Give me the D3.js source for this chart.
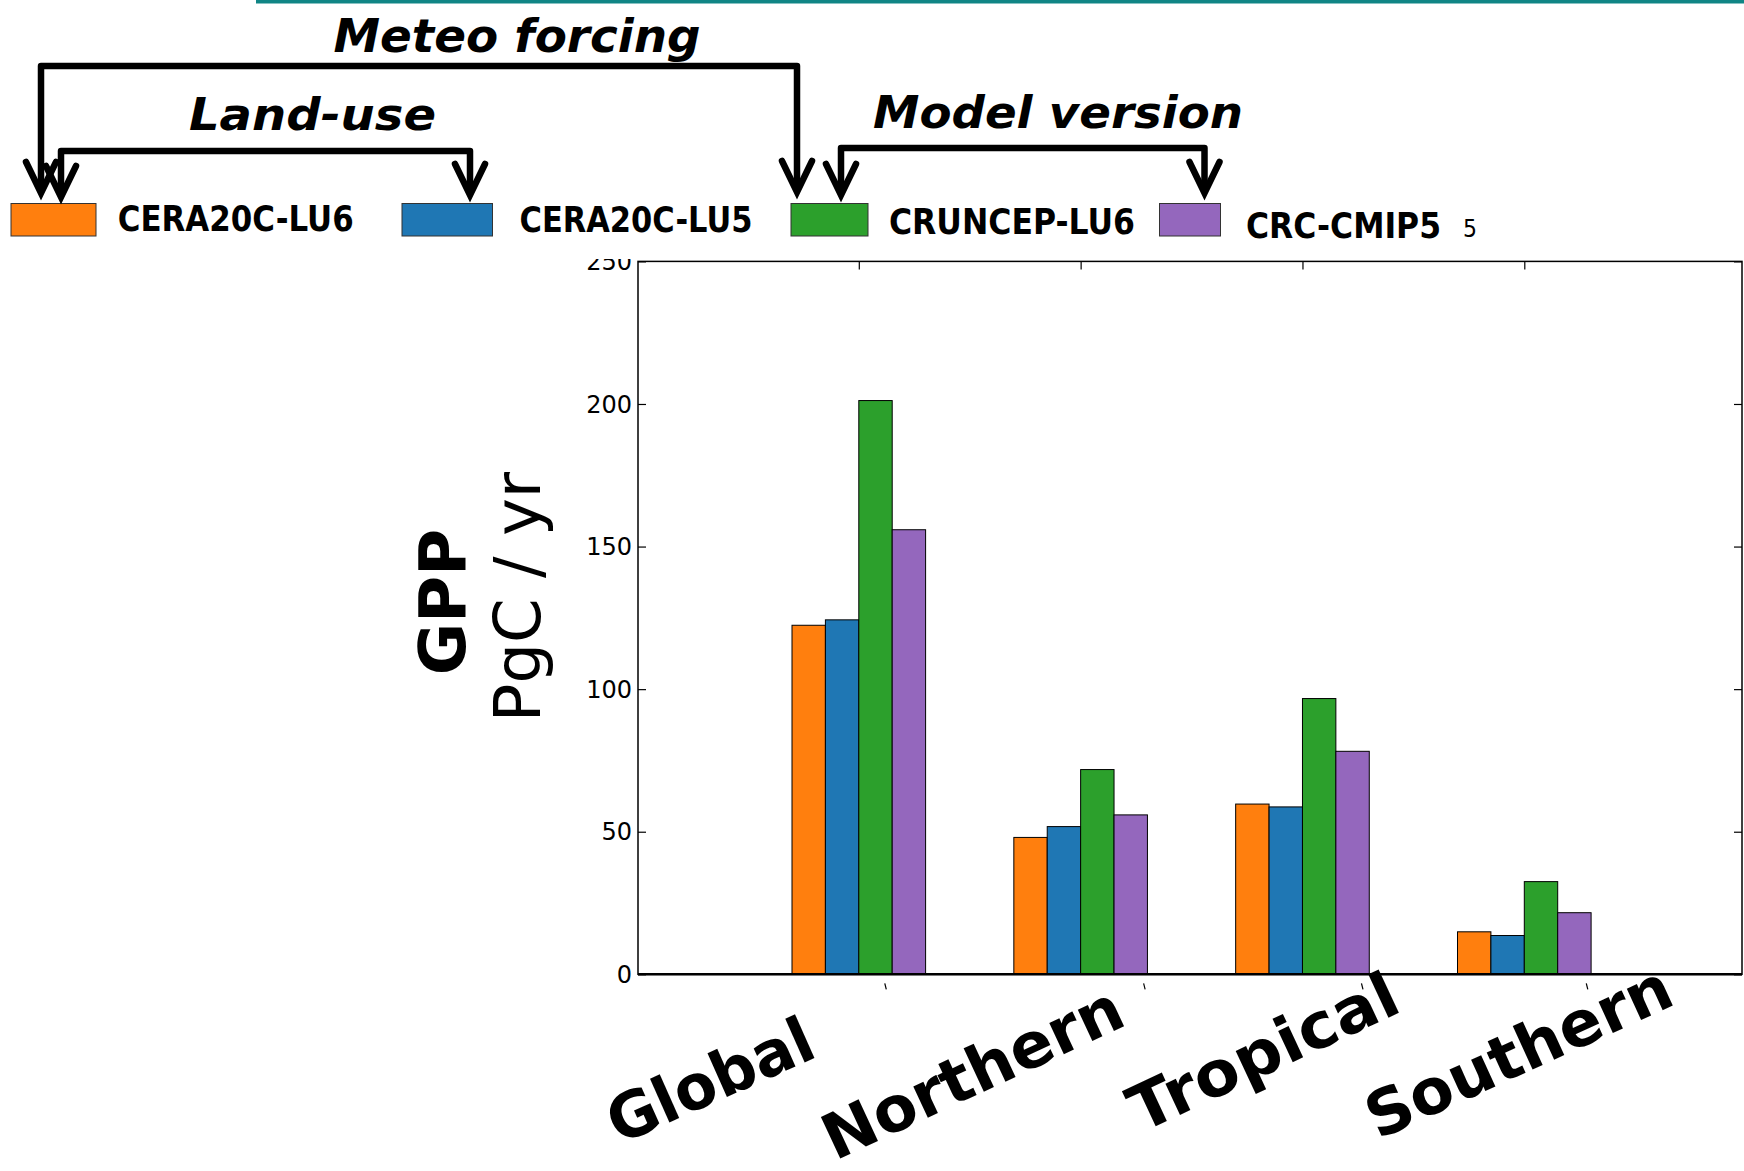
<!DOCTYPE html>
<html>
<head>
<meta charset="utf-8">
<script src="https://cdn.jsdelivr.net/npm/d3@7/dist/d3.min.js"></script>
<style>
  html, body { margin: 0; padding: 0; background: #fff; }
  svg { display: block; }
  text { font-family: "DejaVu Sans", sans-serif; }
</style>
</head>
<body>
<svg id="chart" width="1744" height="1171"></svg>
<script>
// ---- data ----
const categories = ["Global", "Northern", "Tropical", "Southern"];
const seriesNames = ["CERA20C-LU6", "CERA20C-LU5", "CRUNCEP-LU6", "CRC-CMIP5"];
const seriesColors = ["#ff7f0e", "#1f77b4", "#2ca02c", "#9467bd"];
const cera20cLu6 = [122.4, 48.0, 59.7, 14.9];
const cera20cLu5 = [124.3, 51.8, 58.7, 13.6];
const cruncepLu6 = [201.2, 71.8, 96.7, 32.5];
const crcCmip5   = [155.9, 55.9, 78.2, 21.6];
const seriesValues = [cera20cLu6, cera20cLu5, cruncepLu6, crcCmip5];
const yTicks = [0, 50, 100, 150, 200, 250];

// ---- layout ----
const svg = d3.select("#chart");
const plot = { left: 638, right: 1742, top: 261.4, bottom: 974.3 };

const y = d3.scaleLinear().domain([0, 250]).range([plot.bottom, plot.top]);
const xCenter = d3.scalePoint().domain(categories).range([858.8, 1524.3]);
const xSub = d3.scaleBand().domain(seriesNames).range([-66.8, 66.8]).padding(0);

// teal header line
svg.append("rect").attr("x", 256).attr("y", 0).attr("width", 1488).attr("height", 3.5)
  .attr("fill", "#108585");

// bars
const groups = svg.append("g");
seriesNames.forEach((name, si) => {
  groups.selectAll(null)
    .data(categories.map((c, ci) => ({ c, v: seriesValues[si][ci] })))
    .enter().append("rect")
    .attr("x", d => xCenter(d.c) + xSub(name))
    .attr("y", d => y(d.v))
    .attr("width", xSub.bandwidth())
    .attr("height", d => y(0) - y(d.v))
    .attr("fill", seriesColors[si])
    .attr("stroke", "#000")
    .attr("stroke-width", 1);
});

// axes frame
const frame = svg.append("g");
frame.append("rect")
  .attr("x", plot.left).attr("y", plot.top)
  .attr("width", plot.right - plot.left).attr("height", plot.bottom - plot.top)
  .attr("fill", "none").attr("stroke", "#000").attr("stroke-width", 1.5);
frame.append("line").attr("x1", plot.left).attr("x2", plot.right)
  .attr("y1", plot.bottom).attr("y2", plot.bottom).attr("stroke", "#000").attr("stroke-width", 2.5);

// y axis (left, inward ticks)
const yAxisL = d3.axisLeft(y).tickValues(yTicks).tickSizeInner(-8).tickSizeOuter(0);
const gL = svg.append("g").attr("transform", `translate(${plot.left},0)`).call(yAxisL);
gL.select(".domain").remove();
gL.selectAll("line").attr("stroke", "#000").attr("stroke-width", 1.2);
gL.selectAll(".tick text").remove();

// y tick labels, top one clipped as in the picture
svg.append("defs").append("clipPath").attr("id", "yclip")
  .append("rect").attr("x", 0).attr("y", 259).attr("width", 1744).attr("height", 912);
svg.append("g").attr("clip-path", "url(#yclip)")
  .selectAll("text").data(yTicks).enter().append("text")
  .attr("x", plot.left - 6).attr("y", d => y(d)).attr("dy", "0.36em")
  .attr("text-anchor", "end").attr("font-size", 24).attr("fill", "#000")
  .text(d => d);

// y axis (right, inward ticks)
const yAxisR = d3.axisRight(y).tickValues(yTicks).tickSizeInner(-8).tickSizeOuter(0).tickFormat("");
const gR = svg.append("g").attr("transform", `translate(${plot.right},0)`).call(yAxisR);
gR.select(".domain").remove();
gR.selectAll("line").attr("stroke", "#000").attr("stroke-width", 1.2);

// x ticks (top, inward)
const xAxisT = d3.axisTop(xCenter).tickSizeInner(-8).tickSizeOuter(0).tickFormat("");
const gT = svg.append("g").attr("transform", `translate(0,${plot.top})`).call(xAxisT);
gT.select(".domain").remove();
gT.selectAll("line").attr("stroke", "#000").attr("stroke-width", 1.2);

// small marks under axis
const markOffsets = [26, 63, 59, 62];
svg.append("g").selectAll("line").data(categories).enter().append("line")
  .attr("x1", (d, i) => xCenter(d) + markOffsets[i]).attr("x2", (d, i) => xCenter(d) + markOffsets[i] + 1.5)
  .attr("y1", plot.bottom + 9).attr("y2", plot.bottom + 15)
  .attr("stroke", "#000").attr("stroke-width", 1.2);

// x category labels (rotated, bold)
const labelPos = [
  { x: 619, y: 1145, len: 219, rot: 24 },
  { x: 835, y: 1161, len: 324, rot: 25 },
  { x: 1141, y: 1133, len: 290, rot: 25 },
  { x: 1378, y: 1140, len: 329, rot: 24.5 }
];
svg.append("g").selectAll("text").data(categories).enter().append("text")
  .attr("transform", (d, i) => `translate(${labelPos[i].x},${labelPos[i].y}) rotate(${-labelPos[i].rot})`)
  .attr("font-size", 63).attr("font-weight", "bold")
  .attr("textLength", (d, i) => labelPos[i].len).attr("lengthAdjust", "spacingAndGlyphs")
  .attr("fill", "#000")
  .text(d => d);

// y axis label
svg.append("text").attr("transform", "translate(465,602) rotate(-90)")
  .attr("text-anchor", "middle").attr("font-size", 64).attr("font-weight", "bold")
  .attr("fill", "#000").text("GPP");
svg.append("text").attr("transform", "translate(540,597) rotate(-90)")
  .attr("text-anchor", "middle").attr("font-size", 64)
  .attr("fill", "#000").text("PgC / yr");

// legend
const legendItems = [
  { rx: 11, rw: 85, tx: 117.7, ty: 231, tl: 236 },
  { rx: 402, rw: 90.5, tx: 519.5, ty: 232, tl: 233 },
  { rx: 791, rw: 77, tx: 889, ty: 234, tl: 246 },
  { rx: 1159.5, rw: 61, tx: 1246, ty: 238, tl: 195 }
];
const leg = svg.append("g");
seriesNames.forEach((name, i) => {
  const L = legendItems[i];
  leg.append("rect").attr("x", L.rx).attr("y", 203.5).attr("width", L.rw).attr("height", 32.5)
    .attr("fill", seriesColors[i]).attr("stroke", "#333").attr("stroke-width", 1);
  leg.append("text").attr("x", L.tx).attr("y", L.ty)
    .attr("font-size", 36).attr("font-weight", "bold")
    .attr("textLength", L.tl).attr("lengthAdjust", "spacingAndGlyphs")
    .attr("fill", "#000").text(name);
});
leg.append("text").attr("x", 1463).attr("y", 237).attr("font-size", 25)
  .attr("textLength", 14).attr("lengthAdjust", "spacingAndGlyphs").attr("fill", "#000").text("5");

// brackets with arrows
const brackets = [
  { label: "Meteo forcing", x1: 41, x2: 797, hy: 66, tip1: 193, tip2: 192, lx: 333.5, ly: 52, ll: 367, fs: 46 },
  { label: "Land-use", x1: 61, x2: 470, hy: 151, tip1: 197, tip2: 195, lx: 189, ly: 130, ll: 247, fs: 45 },
  { label: "Model version", x1: 841, x2: 1204.5, hy: 148, tip1: 195, tip2: 193, lx: 873, ly: 128, ll: 370, fs: 45 }
];
const br = svg.append("g");
brackets.forEach(b => {
  const p = d3.path();
  p.moveTo(b.x1, b.tip1 - 3); p.lineTo(b.x1, b.hy); p.lineTo(b.x2, b.hy); p.lineTo(b.x2, b.tip2 - 3);
  br.append("path").attr("d", p.toString()).attr("fill", "none").attr("stroke", "#000")
    .attr("stroke-width", 6.5).attr("stroke-linejoin", "round").attr("stroke-linecap", "round");
  [[b.x1, b.tip1], [b.x2, b.tip2]].forEach(([ax, ay]) => {
    const h = d3.path();
    h.moveTo(ax - 15, ay - 31); h.lineTo(ax, ay); h.lineTo(ax + 15, ay - 31);
    br.append("path").attr("d", h.toString()).attr("fill", "none").attr("stroke", "#000")
      .attr("stroke-width", 6.5).attr("stroke-linejoin", "miter").attr("stroke-linecap", "round");
  });
  br.append("text").attr("x", b.lx).attr("y", b.ly)
    .attr("font-size", b.fs).attr("font-weight", "bold").attr("font-style", "oblique")
    .attr("textLength", b.ll).attr("lengthAdjust", "spacingAndGlyphs")
    .attr("fill", "#000").text(b.label);
});
</script>
</body>
</html>
